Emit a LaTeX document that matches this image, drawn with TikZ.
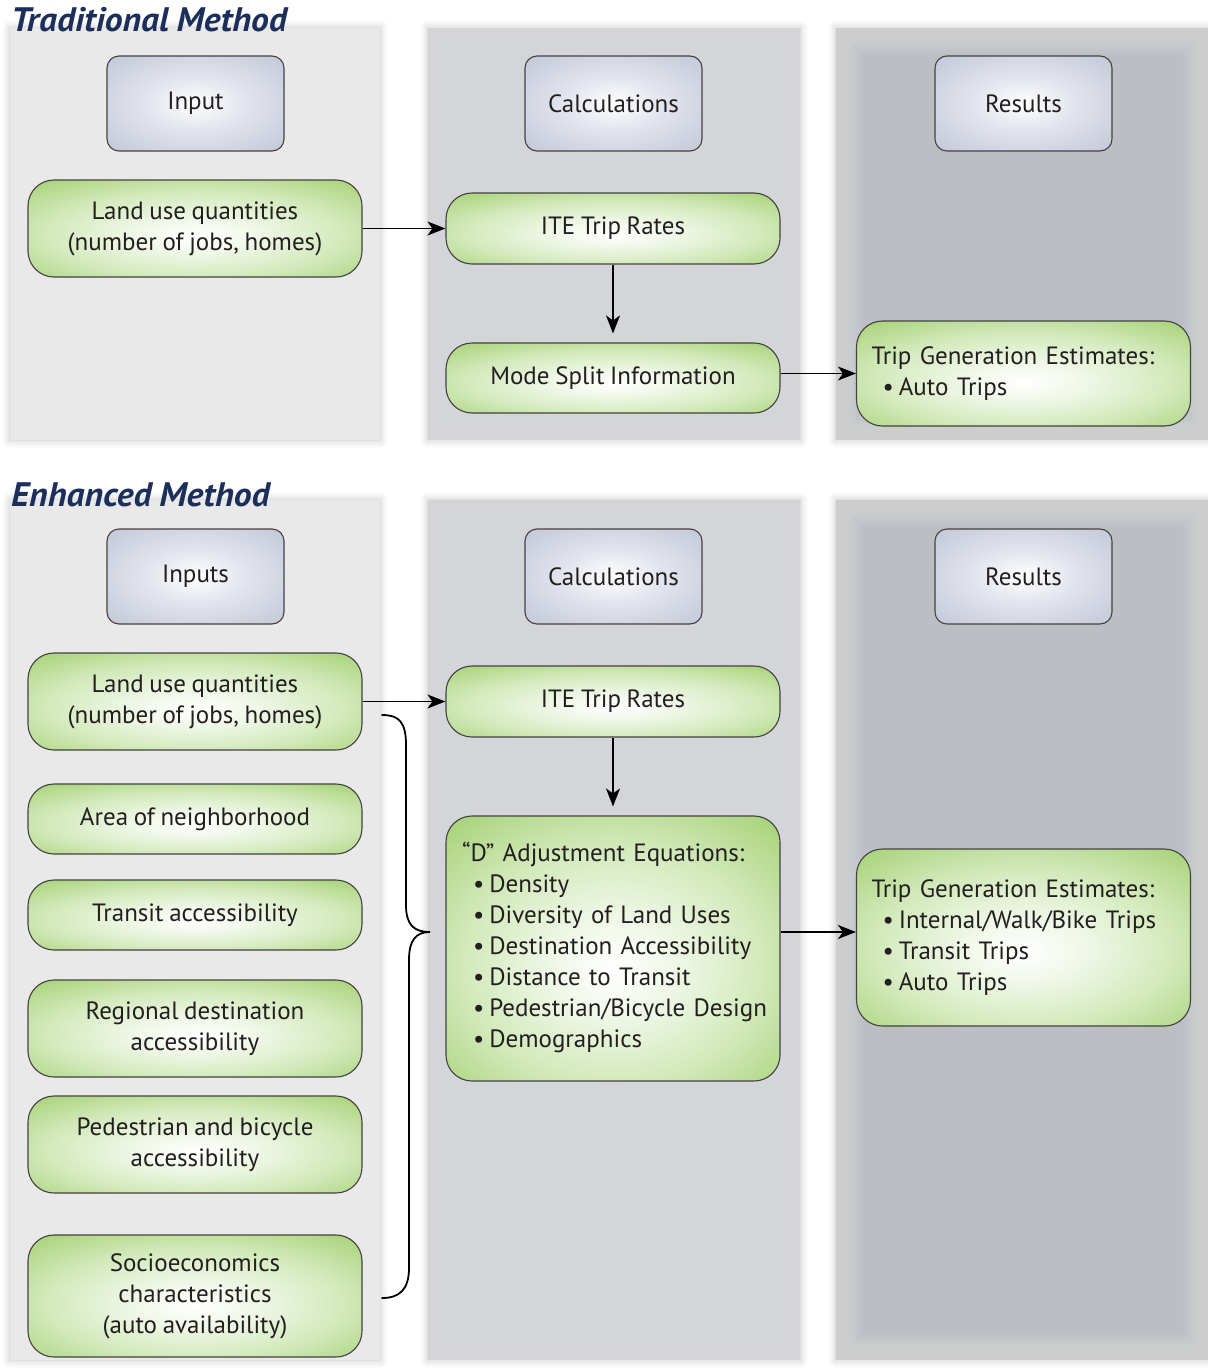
\documentclass[tikz,border=0pt]{standalone}
\usepackage{fontspec}
\setmainfont{PT Sans}[WordSpace=0.85]
\usetikzlibrary{arrows.meta,shadows.blur}

\definecolor{gedge}{HTML}{A9D37A}
\definecolor{gmid}{HTML}{D3EABC}
\definecolor{hedge}{HTML}{C2C7D6}
\definecolor{hmid}{HTML}{E2E5EE}
\definecolor{navy}{HTML}{1C2F5B}
\definecolor{ink}{HTML}{231F20}
\definecolor{paneA}{HTML}{E9E9E9}
\definecolor{paneB}{HTML}{D3D5D8}
\definecolor{paneC}{HTML}{BBBFC3}

\pgfdeclareradialshading{greenglow}{\pgfpoint{0bp}{-4bp}}{color(0bp)=(white); color(8bp)=(white!85!gedge); color(22bp)=(gmid); color(36bp)=(gedge); color(100bp)=(gedge)}
\pgfdeclareradialshading{blueglow}{\pgfpoint{0bp}{0bp}}{color(0bp)=(white); color(14bp)=(hmid); color(36bp)=(hedge); color(100bp)=(hedge)}

\newcommand\bul{\hspace*{11pt}\textbullet\hspace{5pt}}
\newcommand\rows[1]{\begin{tabular}{@{}l@{}}#1\end{tabular}}

\begin{document}
\begin{tikzpicture}[x=1pt,y=-1pt,
  every node/.style={text=ink},
  txt/.style={font=\fontsize{25}{31}\selectfont},
  ttl/.style={font=\fontsize{34}{38}\selectfont\bfseries\itshape, text=navy, inner sep=0pt, anchor=base west},
  hdr/.style={txt, draw=ink!85, line width=1.1pt, rounded corners=12pt, shade, shading=blueglow,
              minimum width=177pt, minimum height=95pt, inner sep=0pt},
  gbox/.style={txt, draw=ink!85, line width=1.1pt, rounded corners=26pt, shade, shading=greenglow,
               minimum width=334pt, align=center, inner sep=0pt},
  lbox/.style={gbox, align=left, text width=304pt, inner xsep=15pt},
  link/.style={draw=black, line width=1.8pt, -{Stealth[length=18pt,width=14pt,inset=5pt]}},
  pane/.style={blur shadow={shadow xshift=0pt, shadow yshift=0pt, shadow blur radius=8pt, shadow opacity=25}},
  feather/.style={draw=white, opacity=#1}
]
\useasboundingbox (0,0) rectangle (1207,1370);

% ---------- column panels (soft edged) ----------
\foreach \ya/\yb in {28/440, 500/1360}{
  \fill[paneA, pane] (10,\ya) rectangle (380,\yb);
  \fill[paneB, pane] (428,\ya) rectangle (800,\yb);
  \fill[paneC, pane] (836,\ya) rectangle (1210,\yb);
  \begin{scope}
    \clip (428,\ya) rectangle (800,\yb);
    \foreach \w in {2,4,...,24} \draw[feather=0.022, line width=\w pt] (428,\ya) rectangle (800,\yb);
  \end{scope}
  \begin{scope}
    \clip (836,\ya) rectangle (1210,\yb);
    \foreach \w in {2,4,...,56} \draw[feather=0.018, line width=\w pt] (836,\ya) rectangle (1210,\yb);
  \end{scope}
}

% ---------- titles ----------
\node[ttl] (t1) at (11,32) {\scalebox{1.05}[1]{Traditional Method}};
\node[ttl] (t2) at (11,506) {\scalebox{1.05}[1]{Enhanced Method}};

% ---------- traditional method ----------
\node[hdr] (in1) at (195.5,103.5) {Input};
\node[hdr] (ca1) at (613.5,103.5) {Calculations};
\node[hdr] (re1) at (1023.5,103.5) {Results};

\node[gbox, minimum height=97pt] (lu1) at (195,228.5) {Land use quantities\\(number of jobs, homes)};
\node[gbox, minimum height=71pt] (ite1) at (613,228.5) {ITE Trip Rates};
\node[gbox, minimum height=70pt] (ms1) at (613,378) {Mode Split Information};
\node[lbox, minimum height=105pt] (tg1) at (1023.5,373.5) {\rows{Trip Generation Estimates:\\\bul Auto Trips}\\[4pt]};

\draw[link] (lu1.east) -- (ite1.west);
\draw[link, shorten >=9pt] (ite1.south) -- (ms1.north);
\draw[link] (ms1.east |- tg1.west) -- (tg1.west);

% ---------- enhanced method ----------
\node[hdr] (in2) at (195.5,576.5) {Inputs};
\node[hdr] (ca2) at (613.5,576.5) {Calculations};
\node[hdr] (re2) at (1023.5,576.5) {Results};

\node[gbox, minimum height=97pt] (lu2) at (195,701.5) {Land use quantities\\(number of jobs, homes)};
\node[gbox, minimum height=70pt] (area) at (195,819) {Area of neighborhood};
\node[gbox, minimum height=70pt] (tran) at (195,915) {Transit accessibility};
\node[gbox, minimum height=97pt] (reg) at (195,1028.5) {Regional destination\\accessibility};
\node[gbox, minimum height=97pt] (ped) at (195,1144.5) {Pedestrian and bicycle\\accessibility};
\node[gbox, minimum height=122pt] (soc) at (195,1296) {Socioeconomics\\characteristics\\(auto availability)};

\node[gbox, minimum height=71pt] (ite2) at (613,701.5) {ITE Trip Rates};
\node[lbox, minimum height=265pt, text width=302pt, inner xsep=16pt] (dadj) at (613,948.5)
  {\rows{“D” Adjustment Equations:\\\bul Density\\\bul Diversity of Land Uses\\\bul Destination Accessibility\\
   \bul Distance to Transit\\\bul Pedestrian/Bicycle Design\\\bul Demographics}\\[18pt]};
\node[lbox, minimum height=177pt] (tg2) at (1023.5,937.5)
  {\rows{Trip Generation Estimates:\\\bul Internal/Walk/Bike Trips\\\bul Transit Trips\\\bul Auto Trips}\\[14pt]};

\draw[link] (lu2.east) -- (ite2.west);
\draw[link, shorten >=9pt] (ite2.south) -- (dadj.north);
\coordinate (ry) at (0,932);
\draw[link] (dadj.east |- ry) -- (tg2.west |- ry);

% brace gathering all enhanced inputs
\coordinate (brtop) at (382,715);
\coordinate (brtip) at (430,932);
\coordinate (brbot) at (382,1298);
\draw[line width=1.8pt, line cap=round]
  (brtop) .. controls (399,715) and (406,722) .. (406,745) -- (406,905)
  .. controls (406,925) and (414,932) .. (brtip)
  .. controls (416,932) and (409,940) .. (409,960) -- (409,1268)
  .. controls (409,1290) and (399,1298) .. (brbot);
\end{tikzpicture}
\end{document}
